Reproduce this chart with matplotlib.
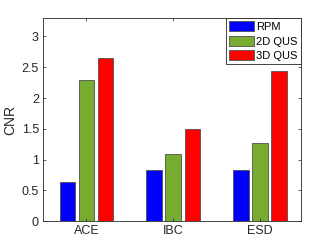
import matplotlib
matplotlib.use("Agg")
import matplotlib.pyplot as plt
import numpy as np

categories = ["ACE", "IBC", "ESD"]
series = ["RPM", "2D QUS", "3D QUS"]
rpm = [0.63, 0.83, 0.84]
qus2d = [2.29, 1.09, 1.27]
qus3d = [2.65, 1.50, 2.44]
colors = ["#0000ff", "#77ac30", "#ff0000"]
yticks = [0, 0.5, 1, 1.5, 2, 2.5, 3]
ytick_labels = ["0", "0.5", "1", "1.5", "2", "2.5", "3"]

plt.rcParams['font.family'] = ['Liberation Sans', 'DejaVu Sans']
fig = plt.figure(figsize=(3.32, 2.49), dpi=100)
ax = fig.add_axes([43/332, 1-221.3/249, 258/332, 203.3/249])

x = np.arange(1, len(categories) + 1)
offsets = [-0.22, 0, 0.22]
for vals, off, c, name in zip([rpm, qus2d, qus3d], offsets, colors, series):
    ax.bar(x + off, vals, width=0.18, color=c, edgecolor="#505050", linewidth=0.6, label=name)

ax.set_xlim(0.5, 3.47)
ax.set_ylim(0, 3.3)
ax.set_xticks(x)
ax.set_xticklabels(categories)
ax.set_yticks(yticks)
ax.set_yticklabels(ytick_labels)
ax.set_ylabel("CNR", fontsize=10, color="#262626", labelpad=3)
ax.tick_params(axis="both", direction="in", length=2.5, width=0.5, labelsize=9,
               colors="#262626", top=True, right=True, pad=3)
for s in ax.spines.values():
    s.set_color("#262626")
    s.set_linewidth(0.6)

leg = ax.legend(loc="upper right", fontsize=8, handlelength=2.2, handleheight=1.0,
                handletextpad=0.25, borderpad=0.3, labelspacing=0.33, borderaxespad=0,
                fancybox=False, framealpha=1)
leg.get_frame().set_edgecolor("#262626")
leg.get_frame().set_linewidth(0.6)

fig.savefig("out.png", dpi=100)
